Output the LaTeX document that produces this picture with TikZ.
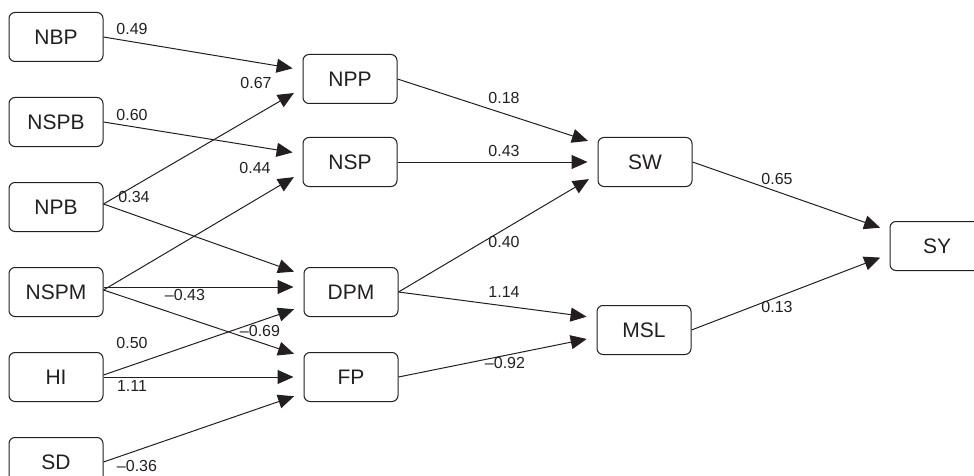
\documentclass[tikz,border=0pt]{standalone}
\usepackage{fontspec}
\setmainfont{Liberation Sans}
\usepackage{xcolor}
\definecolor{inkgray}{RGB}{35,31,32}
\usetikzlibrary{arrows.meta,positioning}

\begin{document}
\begin{tikzpicture}[
        x=1pt, y=-1pt,
        node distance=35pt,
        box/.style={rectangle, draw=inkgray, text=inkgray, rounded corners=6pt, minimum width=94pt, minimum height=49pt, align=center, line width=1pt, font=\fontsize{21}{25}\selectfont},
        coef/.style={text=inkgray, inner sep=0pt, font=\fontsize{16}{19}\selectfont},
        arrow/.style={-{Triangle[length=16pt,width=14pt]}, line width=1pt, inkgray, shorten >=10pt}
    ]
        \useasboundingbox (0,0) rectangle (974,476);

        % exogenous variables
        \node[box] (nbp) at (56,37) {NBP};
        \node[box, below=of nbp] (nspb) {NSPB};
        \node[box, below=of nspb] (npb) {NPB};
        \node[box, below=of npb] (nspm) {NSPM};
        \node[box, below=of nspm] (hi) {HI};
        \node[box, below=of hi] (sd) {SD};

        % intermediate variables
        \node[box] (npp) at (350,79) {NPP};
        \node[box] (nsp) at (350,162) {NSP};
        \node[box, right=200pt of nspm] (dpm) {DPM};
        \node[box, right=200pt of hi] (fp) {FP};

        \node[box, right=200pt of nsp] (sw) {SW};
        \node[box] (msl) at (644,330) {MSL};
        \node[box] (sy) at (937,246) {SY};

        % paths
        \draw[arrow] (nbp.east) -- ([yshift=9pt]npp.west);
        \draw[arrow] ([yshift=3pt]npb.east) -- ([yshift=-9pt]npp.west);
        \draw[arrow] (nspb.east) -- ([yshift=8pt]nsp.west);
        \draw[arrow] ([yshift=2pt]nspm.east) -- ([yshift=-10pt]nsp.west);
        \draw[arrow] ([yshift=3pt]npb.east) -- ([yshift=17pt]dpm.west);
        \draw[arrow] ([yshift=5pt]nspm.east) -- ([yshift=5pt]dpm.west);
        \draw[arrow] ([yshift=2pt]hi.east) -- ([yshift=-14pt]dpm.west);
        \draw[arrow] ([yshift=2pt]nspm.east) -- ([yshift=20pt]fp.west);
        \draw[arrow] (hi.east) -- (fp.west);
        \draw[arrow] (sd.east) -- ([yshift=-16pt]fp.west);

        \draw[arrow] (npp.east) -- ([yshift=18pt]sw.west);
        \draw[arrow] (nsp.east) -- (sw.west);
        \draw[arrow] (dpm.east) -- ([yshift=-12pt]sw.west);
        \draw[arrow] (dpm.east) -- ([yshift=12pt]msl.west);
        \draw[arrow] (fp.east) -- ([yshift=-7pt]msl.west);

        \draw[arrow] (sw.east) -- ([yshift=15pt]sy.west);
        \draw[arrow] (msl.east) -- ([yshift=-8pt]sy.west);

        % path coefficients
        \node[coef] (c-nbp) at (132,29) {0.49};
        \node[coef] (c-npb-npp) at (256,83) {0.67};
        \node[coef] (c-nspb) at (132,115) {0.60};
        \node[coef] (c-nspm-nsp) at (255,168) {0.44};
        \node[coef] (c-npb-dpm) at (134,197) {0.34};
        \node[coef] (c-nspm-dpm) at (185,295) {–0.43};
        \node[coef] (c-nspm-fp) at (260,331) {–0.69};
        \node[coef] (c-hi-dpm) at (132,343) {0.50};
        \node[coef] (c-hi-fp) at (132,386) {1.11};
        \node[coef] (c-sd) at (137,466) {–0.36};

        \node[coef] (c-npp) at (504,98) {0.18};
        \node[coef] (c-nsp) at (504,151) {0.43};
        \node[coef] (c-dpm-sw) at (504,242) {0.40};
        \node[coef] (c-dpm-msl) at (504,292) {1.14};
        \node[coef] (c-fp) at (505,363) {–0.92};

        \node[coef] (c-sw) at (777,179) {0.65};
        \node[coef] (c-msl) at (777,307) {0.13};
    \end{tikzpicture}
\end{document}
